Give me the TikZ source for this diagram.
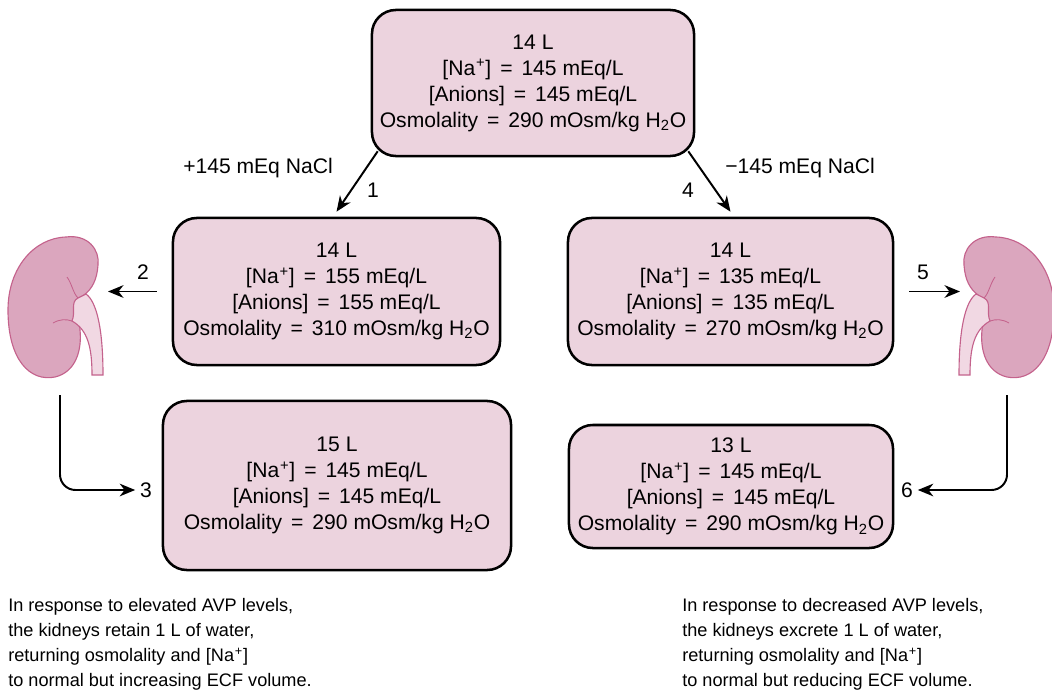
\documentclass[tikz,border=0pt]{standalone}
\usepackage{fontspec}
\setmainfont{Liberation Sans}
\usetikzlibrary{arrows.meta}

\definecolor{boxpink}{RGB}{236,211,222}
\definecolor{kidpink}{RGB}{219,166,190}
\definecolor{kidline}{RGB}{196,98,140}
\definecolor{uretpink}{RGB}{241,216,227}

\newcommand{\nap}{[Na\textsuperscript{\kern0.6pt+}]}
\newcommand{\anions}{{[Anions]}}
\newcommand{\eqs}{\ \kern2.2pt=\kern2.2pt\ }
\newcommand{\htwoo}{H\textsubscript{2}O}

\begin{document}
\begin{tikzpicture}[x=0.025cm,y=-0.025cm,
    font=\fontsize{15}{18.5}\selectfont,
    box/.style={draw,line width=1.8pt,rounded corners=17pt,fill=boxpink,align=center,inner sep=0pt},
    note/.style={anchor=north west,align=left,inner sep=0pt,font=\fontsize{12.9}{17.7}\selectfont},
    arr/.style={line width=1.4pt,-{Stealth[length=11pt,width=9pt,inset=3.5pt]}},
    kidney/.pic={
      % body of the kidney
      \draw[kidline,fill=kidpink,line width=0.8pt]
        (66,237) .. controls (88,234) and (100,250) .. (98,265)
        .. controls (97,280) and (92,289) .. (84,295)
        -- (78,305) -- (80,330)
        .. controls (82,350) and (76,372) .. (55,377)
        .. controls (30,382) and (8,360) .. (8,310)
        .. controls (8,268) and (34,238) .. (66,237) -- cycle;
      % ureter
      \draw[kidline,fill=uretpink,line width=0.8pt]
        (86,294) .. controls (97,302) and (103,330) .. (103,375)
        -- (92,375) .. controls (92,348) and (88,330) .. (72,321)
        .. controls (76,312) and (70,302) .. (78,298) -- cycle;
      % folds
      \draw[kidline,line width=0.6pt] (67,277) .. controls (72,284) and (73,293) .. (78,298);
      \draw[kidline,line width=0.6pt] (53,323) .. controls (60,319) and (66,319) .. (72,321);
    }]
  \useasboundingbox (0,0) rectangle (1052,696);

  % fluid compartments
  \node[box,minimum width=8.05cm,minimum height=3.65cm] (start) at (533,83)
    {14 L\\ \nap\eqs 145 mEq/L\\ \anions\eqs 145 mEq/L\\ Osmolality\eqs 290 mOsm/kg \htwoo};
  \node[box,minimum width=8.175cm,minimum height=3.675cm] (gain) at (336.5,291.5)
    {14 L\\ \nap\eqs 155 mEq/L\\ \anions\eqs 155 mEq/L\\ Osmolality\eqs 310 mOsm/kg \htwoo};
  \node[box,minimum width=8.125cm,minimum height=3.675cm] (loss) at (730.5,291.5)
    {14 L\\ \nap\eqs 135 mEq/L\\ \anions\eqs 135 mEq/L\\ Osmolality\eqs 270 mOsm/kg \htwoo};
  \node[box,minimum width=8.7cm,minimum height=4.225cm] (retain) at (337,485.5)
    {15 L\\ \nap\eqs 145 mEq/L\\ \anions\eqs 145 mEq/L\\ Osmolality\eqs 290 mOsm/kg \htwoo};
  \node[box,minimum width=8.1cm,minimum height=3.075cm] (excrete) at (731,486.5)
    {13 L\\ \nap\eqs 145 mEq/L\\ \anions\eqs 145 mEq/L\\ Osmolality\eqs 290 mOsm/kg \htwoo};

  % kidneys
  \pic at (0,0) {kidney};
  \pic[xscale=-1] at (1062,0) {kidney};
  \coordinate (kidLin) at (108,291.5);
  \coordinate (kidRin) at (960,291.5);
  \coordinate (kidLout) at (60,395);
  \coordinate (kidRout) at (1007,395);

  % step numbers
  \node (s1) at (373,190) {1};
  \node (s2) at (143,272) {2};
  \node (s3) at (146,490) {3};
  \node (s4) at (688,190) {4};
  \node (s5) at (923,272) {5};
  \node (s6) at (907,490) {6};
  \node at (258,168) {+145 mEq NaCl};
  \node at (800,168) {−145 mEq NaCl};

  \draw[arr] ([shift={(7,-6)}]start.south west) -- ([shift={(0,-5)}]gain.north);
  \draw[arr] ([shift={(-7,-6)}]start.south east) -- ([shift={(0,-5)}]loss.north);
  \draw[arr] ([shift={(-15,0)}]gain.west) -- (kidLin);
  \draw[arr] ([shift={(15,0)}]loss.east) -- (kidRin);
  \draw[arr,rounded corners=11pt] (kidLout) |- (s3);
  \draw[arr,rounded corners=11pt] (kidRout) |- (s6);

  % notes below
  \node[note] at (8,598)
    {In response to elevated AVP levels,\\ the kidneys retain 1 L of water,\\
     returning osmolality and \nap\\ to normal but increasing ECF volume.};
  \node[note] at (682,598)
    {In response to decreased AVP levels,\\ the kidneys excrete 1 L of water,\\
     returning osmolality and \nap\\ to normal but reducing ECF volume.};
\end{tikzpicture}
\end{document}
